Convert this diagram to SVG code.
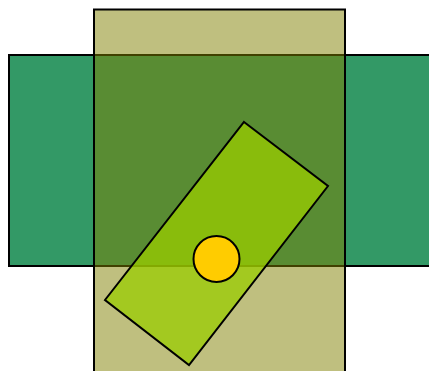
<svg xmlns="http://www.w3.org/2000/svg" width="429" height="371" viewBox="0 0 429 371">
<style>
.s{stroke:#000;stroke-width:2}
</style>
<rect width="429" height="371" fill="#fff"/>
<g id="green-rect"><rect class="s" x="9" y="55" width="430" height="211" fill="#339966"/></g>
<g id="olive-rect"><rect class="s" x="94" y="9.5" width="251" height="372" fill="#808000" fill-opacity="0.5"/></g>
<g id="rotated-rect"><polygon class="s" points="244,122 328,186 189,365 105,300" fill="#99CC00" fill-opacity="0.75" stroke-linejoin="miter"/></g>
<g id="circle"><circle class="s" cx="216.5" cy="259" r="23" fill="#FFCC00"/></g>
<g id="connectors"></g>
</svg>
